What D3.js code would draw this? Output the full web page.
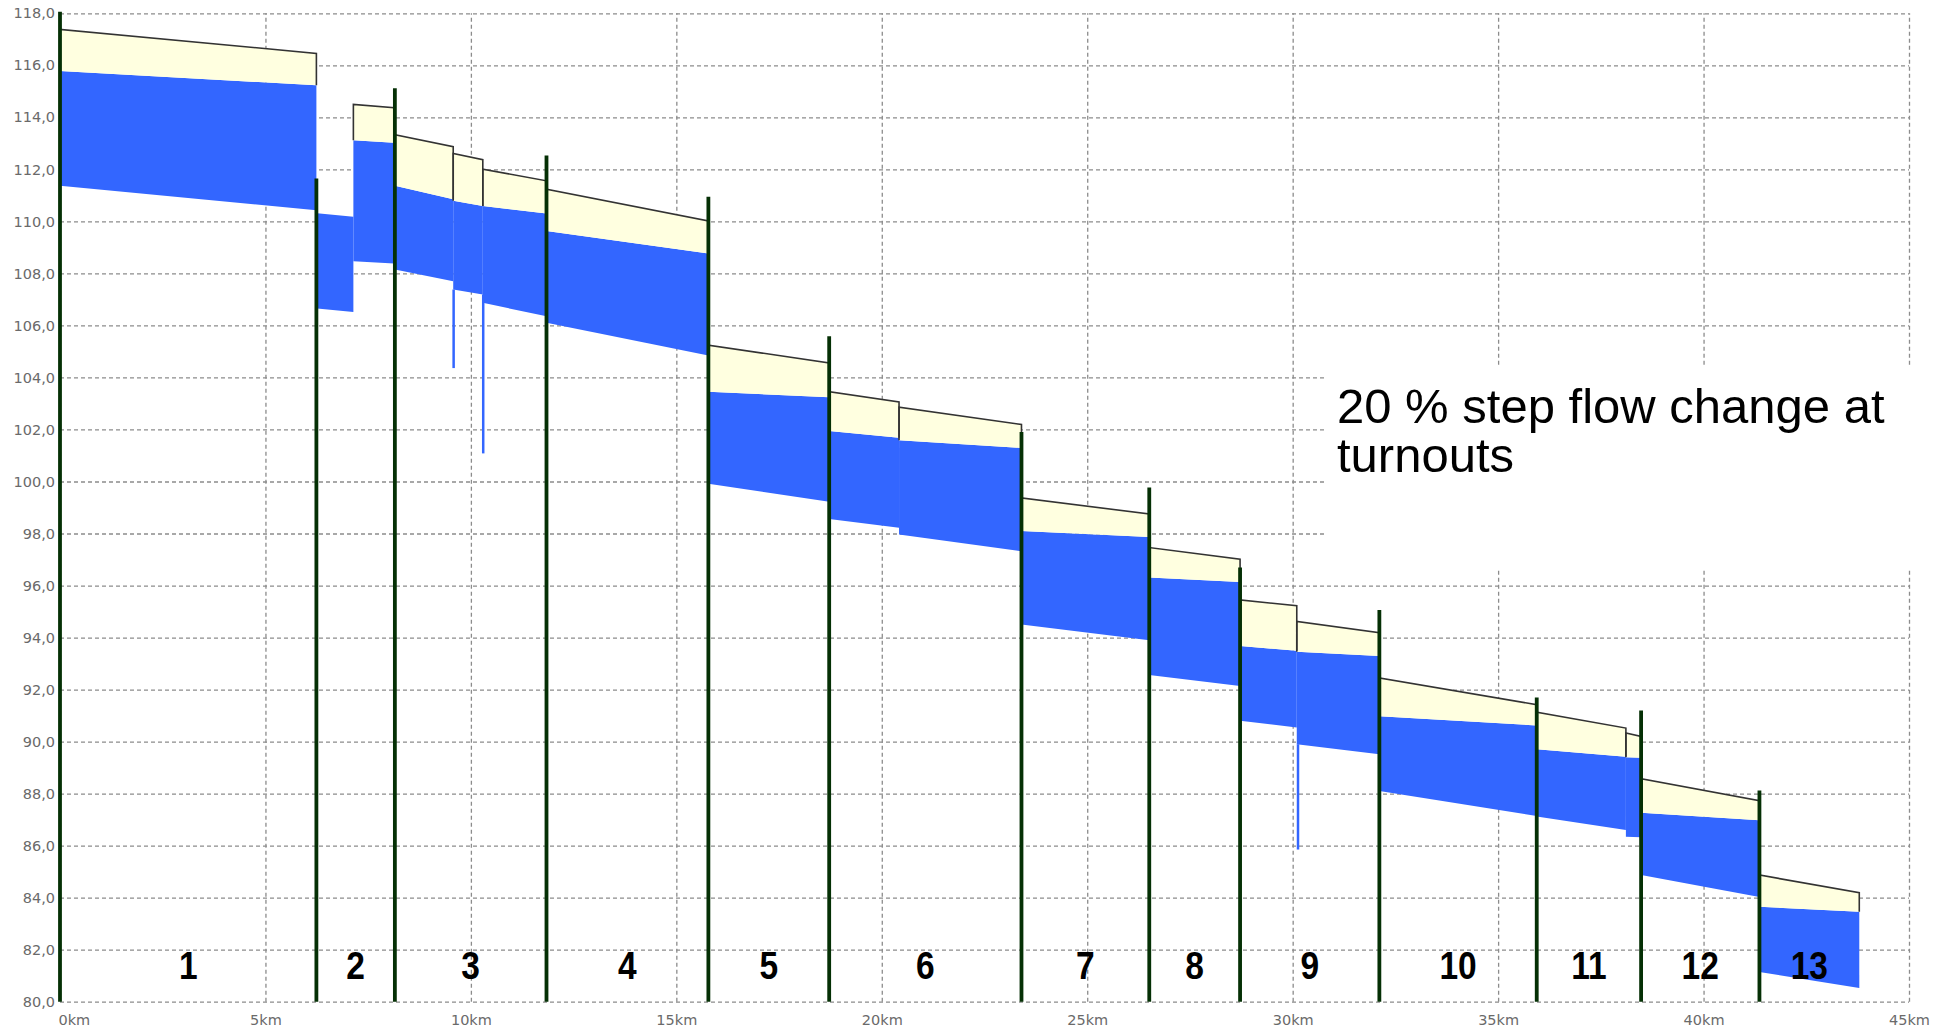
<!DOCTYPE html>
<html lang="en">
<head>
    <meta charset="UTF-8">
    <title>Canal profile</title>
    <script src="https://d3js.org/d3.v7.min.js"></script>
    <style>
        body { margin: 0; background: #fff; }
        .tick text {
            font-family: 'DejaVu Sans', sans-serif;
            font-size: 14.5px;
            fill: #6a6a6a;
        }
        .grid line {
            stroke: #8c8c8c;
            stroke-width: 1.3;
            stroke-dasharray: 4,3;
        }
    </style>
</head>
<body>
<script>
    const width  = 1950;
    const height = 1030;

    // check structures (start of each pool) and their crest height
    const structureKm  = [0, 6.24, 8.15, 11.84, 15.78, 18.72, 23.40, 26.51, 28.72, 32.11, 35.94, 38.48, 41.36];
    const structureTop = [118.06, 111.65, 115.12, 112.53, 110.95, 105.58, 101.9, 99.77, 96.69, 95.06, 91.70, 91.2, 88.12];
    const canalEndKm = 43.79;
    const poolNames = ["1","2","3","4","5","6","7","8","9","10","11","12","13"];

    // reaches between structures / turnouts: [start, end]
    const reachKm = [
        [0, 6.24], [6.26, 7.14], [7.14, 8.13], [8.15, 9.57], [9.57, 10.29], [10.29, 11.84],
        [11.84, 15.78], [15.78, 18.72], [18.72, 20.42], [20.42, 23.40], [23.40, 26.51],
        [26.51, 28.72], [28.72, 30.10], [30.10, 32.11], [32.11, 35.94], [35.94, 38.11],
        [38.11, 38.48], [38.48, 41.36], [41.36, 43.79]
    ];
    const bankLevel = [
        [117.38, 116.46], null, [114.50, 114.37], [113.33, 112.87], [112.61, 112.37], [112.01, 111.56],
        [111.24, 110.02], [105.24, 104.56], [103.45, 103.06], [102.86, 102.19], [99.37, 98.75],
        [97.46, 97.01], [95.45, 95.22], [94.62, 94.19], [92.45, 91.42], [91.13, 90.52],
        [90.33, 90.20], [88.57, 87.73], [84.87, 84.19]
    ];
    const waterLevel = [
        [115.78, 115.23], [110.31, 110.18], [113.12, 113.02], [111.37, 110.85], [110.79, 110.59], [110.59, 110.30],
        [109.63, 108.77], [103.45, 103.24], [101.94, 101.68], [101.59, 101.29], [98.10, 97.87],
        [96.31, 96.14], [93.68, 93.49], [93.45, 93.29], [90.97, 90.62], [89.71, 89.42],
        [89.40, 89.38], [87.26, 86.98], [83.65, 83.46]
    ];
    const bedLevel = [
        [111.37, 110.43], [106.65, 106.52], [108.47, 108.38], [108.15, 107.70], [107.38, 107.19], [106.87, 106.35],
        [106.10, 104.84], [99.91, 99.22], [98.56, 98.22], [97.96, 97.32], [94.50, 93.90],
        [92.56, 92.14], [90.80, 90.54], [89.90, 89.51], [88.10, 87.14], [87.12, 86.60],
        [86.34, 86.32], [84.87, 84.03], [81.14, 80.53]
    ];

    // short drops of the water band at turnouts
    const dropKm     = [9.58, 10.30, 30.13];
    const dropTop    = [107.38, 107.19, 89.90];
    const dropBottom = [104.36, 101.08, 85.85];

    const yTicks = d3.range(80, 119, 2);
    const xTicks = d3.range(0, 46, 5);
    const labelLevel = 80.87;
    const note = ["20 % step flow change at", "turnouts"];

    const x = d3.scaleLinear().domain([0, 45]).range([60, 1909]);
    const y = d3.scaleLinear().domain([80, 118]).range([1001.7, 13.3]);

    const svg = d3.select("body").append("svg")
        .attr("width", width).attr("height", height);

    // grid + tick labels
    const comma = v => d3.format(".1f")(v).replace(".", ",");
    svg.append("g").attr("class", "grid")
        .attr("transform", "translate(" + x(0) + ",0)")
        .call(d3.axisLeft(y).tickValues(yTicks).tickSize(-(x(45) - x(0)))
            .tickPadding(5).tickFormat(comma))
        .call(g => g.select(".domain").remove());

    svg.append("g").attr("class", "grid")
        .attr("transform", "translate(0," + y(80) + ")")
        .call(d3.axisBottom(x).tickValues(xTicks).tickSize(-(y(80) - y(118)))
            .tickPadding(13).tickFormat(d => d + "km"))
        .call(g => g.select(".domain").remove())
        .call(g => g.selectAll(".tick text").filter(d => d === 0).attr("text-anchor", "start").attr("dx", -2));

    // note box hides the grid behind it
    svg.append("rect")
        .attr("x", 1324).attr("y", 366).attr("width", 610).attr("height", 202)
        .attr("fill", "#fff");

    svg.append("g").selectAll("text")
        .data(note).enter().append("text")
        .attr("x", 1337)
        .attr("y", (d, i) => 423 + i * 49)
        .attr("font-family", "'Liberation Sans', Arial, sans-serif")
        .attr("font-size", 49)
        .attr("fill", "#000")
        .text(d => d);

    const reaches = reachKm.map((k, i) => ({
        k: k, bank: bankLevel[i], water: waterLevel[i], bed: bedLevel[i]
    }));

    // water band
    svg.append("g").selectAll("path")
        .data(reaches).enter().append("path")
        .attr("d", r => d3.area()
            .x(d => x(d[0])).y0(d => y(d[2])).y1(d => y(d[1]))
            ([[r.k[0], r.water[0], r.bed[0]], [r.k[1], r.water[1], r.bed[1]]]))
        .attr("fill", "#3366ff");

    // freeboard
    const withBank = reaches.filter(r => r.bank);
    svg.append("g").selectAll("path")
        .data(withBank).enter().append("path")
        .attr("d", r => d3.area()
            .x(d => x(d[0])).y0(d => y(d[2])).y1(d => y(d[1]))
            ([[r.k[0], r.bank[0], r.water[0]], [r.k[1], r.bank[1], r.water[1]]]))
        .attr("fill", "#ffffe0");

    svg.append("g").selectAll("path")
        .data(withBank).enter().append("path")
        .attr("d", r => d3.line()
            .x(d => x(d[0])).y(d => y(d[1]))
            ([[r.k[0], r.water[0]], [r.k[0], r.bank[0]], [r.k[1], r.bank[1]], [r.k[1], r.water[1]]]))
        .attr("fill", "none")
        .attr("stroke", "#333")
        .attr("stroke-width", 1.6);

    // drops
    svg.append("g").selectAll("line")
        .data(dropKm).enter().append("line")
        .attr("x1", d => x(d)).attr("x2", d => x(d))
        .attr("y1", (d, i) => y(dropTop[i]))
        .attr("y2", (d, i) => y(dropBottom[i]))
        .attr("stroke", "#3366ff")
        .attr("stroke-width", 2.5);

    // check structures
    svg.append("g").selectAll("line")
        .data(structureKm).enter().append("line")
        .attr("x1", d => x(d)).attr("x2", d => x(d))
        .attr("y1", y(80))
        .attr("y2", (d, i) => y(structureTop[i]))
        .attr("stroke", "#053005")
        .attr("stroke-width", 3.8);

    // pool numbers (narrow bold digits)
    const poolEnds = structureKm.slice(1).concat([canalEndKm]);
    svg.append("g").selectAll("text")
        .data(poolNames).enter().append("text")
        .attr("transform", (d, i) => "translate(" + [x((structureKm[i] + poolEnds[i]) / 2), y(labelLevel)] + ") scale(0.86,1)")
        .attr("text-anchor", "middle")
        .attr("font-family", "'Liberation Sans', Arial, sans-serif")
        .attr("font-weight", "bold")
        .attr("font-size", 39)
        .attr("fill", "#000")
        .text(d => d);
</script>
</body>
</html>
